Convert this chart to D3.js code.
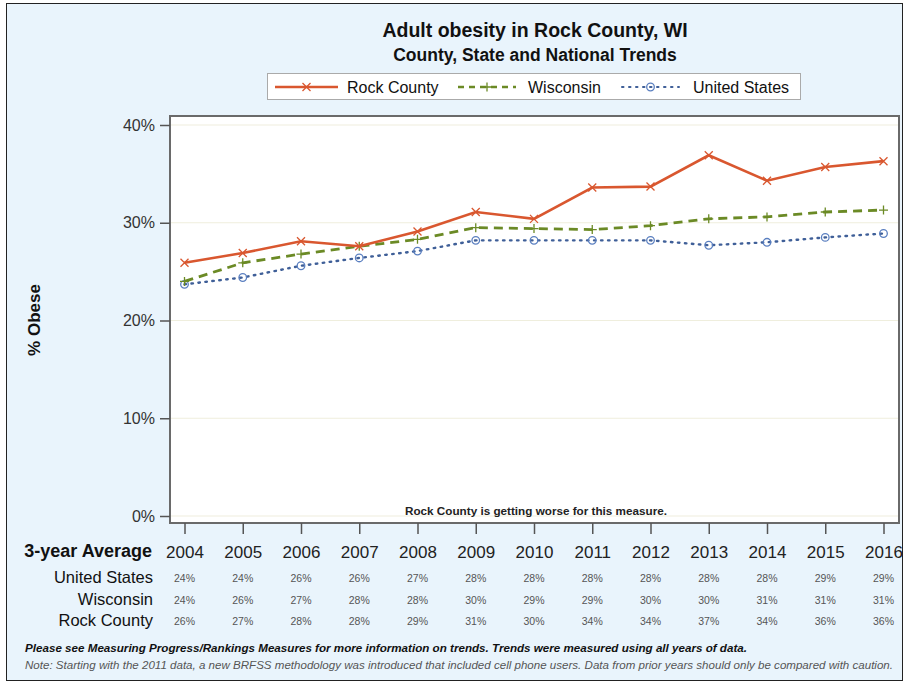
<!DOCTYPE html>
<html>
<head>
<meta charset="utf-8">
<script src="https://cdn.jsdelivr.net/npm/d3@7"></script>
<style>
html,body{margin:0;padding:0;background:#fff;}
svg{display:block;font-family:"Liberation Sans",Arial,sans-serif;}
</style>
</head>
<body>
<svg id="chart" width="907" height="683"></svg>
<script>
const years = [2004,2005,2006,2007,2008,2009,2010,2011,2012,2013,2014,2015,2016];
const rockCounty   = [25.9,26.9,28.1,27.6,29.1,31.1,30.4,33.6,33.7,36.9,34.3,35.7,36.3];
const wisconsin    = [24.0,25.9,26.8,27.6,28.3,29.5,29.4,29.3,29.7,30.4,30.6,31.1,31.3];
const unitedStates = [23.7,24.4,25.6,26.4,27.1,28.2,28.2,28.2,28.2,27.7,28.0,28.5,28.9];
const yTicks = [0,10,20,30,40];
const seriesNames = ["Rock County","Wisconsin","United States"];
const tableRows = ["United States","Wisconsin","Rock County"];

const svg = d3.select("#chart");
const W = 907, H = 683;

// background & frame
svg.append("rect").attr("x",0).attr("y",0).attr("width",W).attr("height",H).attr("fill","#fff");
svg.append("rect").attr("x",6.5).attr("y",3.5).attr("width",896).attr("height",677)
  .attr("fill","#e9f4fc").attr("stroke","#222").attr("stroke-width",1);

const plot = {left:170, top:116, right:899, bottom:523};
const x = d3.scalePoint().domain(years).range([184.5, 883.5]);
const y = d3.scaleLinear().domain([0,40]).range([516,125]);

// plot area
svg.append("rect").attr("x",plot.left).attr("y",plot.top)
  .attr("width",plot.right-plot.left).attr("height",plot.bottom-plot.top)
  .attr("fill","#fff");

// gridlines
svg.append("g").selectAll("line").data(yTicks).join("line")
  .attr("x1",plot.left).attr("x2",plot.right)
  .attr("y1",d=>y(d)).attr("y2",d=>y(d))
  .attr("stroke","#efeedd").attr("stroke-width",1.2);

svg.append("rect").attr("x",plot.left).attr("y",plot.top)
  .attr("width",plot.right-plot.left).attr("height",plot.bottom-plot.top)
  .attr("fill","none").attr("stroke","#6a6a6a").attr("stroke-width",2);

// y axis
const yAxis = d3.axisLeft(y).tickValues(yTicks).tickFormat(d=>d+"%").tickSize(10).tickPadding(5);
const gy = svg.append("g").attr("transform",`translate(${plot.left},0)`).call(yAxis);
gy.select(".domain").remove();
gy.selectAll(".tick line").attr("stroke","#555").attr("stroke-width",1.5);
gy.selectAll(".tick text").attr("font-size","16px").attr("fill","#333")
  .attr("font-family","'Liberation Sans',Arial,sans-serif");

// x axis
const xAxis = d3.axisBottom(x).tickFormat(d=>d).tickSize(11).tickPadding(12);
const gx = svg.append("g").attr("transform",`translate(0,${plot.bottom})`).call(xAxis);
gx.select(".domain").remove();
gx.selectAll(".tick line").attr("stroke","#555").attr("stroke-width",1.5);
gx.selectAll(".tick text").attr("font-size","17px").attr("fill","#222")
  .attr("font-family","'Liberation Sans',Arial,sans-serif");

// series
const series = [
  {name:seriesNames[0], values:rockCounty, color:"#d9572f", dash:null, width:2.6, marker:"x"},
  {name:seriesNames[1], values:wisconsin, color:"#6b8a25", dash:"9,6", width:2.8, marker:"plus"},
  {name:seriesNames[2], values:unitedStates, color:"#3f5f98", dash:"1.5,5.5", width:2.4, marker:"circle"}
];
const line = d3.line().x((d,i)=>x(years[i])).y(d=>y(d));

function drawMarker(g, type, cx, cy, color){
  if(type==="x"){
    const s=4;
    g.append("path").attr("d",`M${cx-s},${cy-s}L${cx+s},${cy+s}M${cx-s},${cy+s}L${cx+s},${cy-s}`)
      .attr("stroke",color).attr("stroke-width",1.3).attr("fill","none");
  } else if(type==="plus"){
    const s=4.5;
    g.append("path").attr("d",`M${cx-s},${cy}L${cx+s},${cy}M${cx},${cy-s}L${cx},${cy+s}`)
      .attr("stroke",color).attr("stroke-width",1.3).attr("fill","none");
  } else {
    g.append("circle").attr("cx",cx).attr("cy",cy).attr("r",3.8)
      .attr("stroke","#5a7fc0").attr("stroke-width",1.3).attr("fill","none");
  }
}

// draw in order US, Wisconsin, Rock so Rock on top
[...series].reverse().forEach(s=>{
  const g = svg.append("g");
  g.append("path").datum(s.values).attr("d",line).attr("fill","none")
    .attr("stroke",s.color).attr("stroke-width",s.width)
    .attr("stroke-dasharray",s.dash).attr("stroke-linecap",s.marker==="circle"?"round":"butt");
  s.values.forEach((v,i)=>drawMarker(g,s.marker,x(years[i]),y(v),s.color));
});

// annotation
svg.append("text").attr("x",536).attr("y",515).attr("text-anchor","middle")
  .attr("font-size","10.5px").attr("font-weight","bold").attr("fill","#222")
  .attr("textLength",262).attr("lengthAdjust","spacingAndGlyphs")
  .text("Rock County is getting worse for this measure.");

// titles
svg.append("text").attr("x",535).attr("y",37).attr("text-anchor","middle")
  .attr("font-size","19.5px").attr("font-weight","bold").attr("fill","#111")
  .text("Adult obesity in Rock County, WI");
svg.append("text").attr("x",535).attr("y",61).attr("text-anchor","middle")
  .attr("font-size","17.5px").attr("font-weight","bold").attr("fill","#111")
  .text("County, State and National Trends");

// legend
const lg = svg.append("g");
lg.append("rect").attr("x",267.5).attr("y",73.5).attr("width",533).attr("height",26)
  .attr("fill","#fff").attr("stroke","#aaa").attr("stroke-width",1);
const legendItems = [
  {s:series[0], x1:275, x2:338, tx:347},
  {s:series[1], x1:458, x2:516, tx:528},
  {s:series[2], x1:622, x2:679, tx:693}
];
legendItems.forEach(it=>{
  const ly = 87;
  lg.append("line").attr("x1",it.x1).attr("x2",it.x2).attr("y1",ly).attr("y2",ly)
    .attr("stroke",it.s.color).attr("stroke-width",it.s.marker==="circle"?2:2.4)
    .attr("stroke-dasharray",it.s.marker==="plus"?"6,5":it.s.dash)
    .attr("stroke-linecap",it.s.marker==="circle"?"round":"butt");
  drawMarker(lg,it.s.marker,(it.x1+it.x2)/2,ly,it.s.color);
  lg.append("text").attr("x",it.tx).attr("y",ly+5.5).attr("font-size","16px").attr("fill","#111")
    .text(it.s.name);
});

// y axis title
svg.append("text").attr("transform","translate(40,320) rotate(-90)").attr("text-anchor","middle")
  .attr("font-size","17px").attr("font-weight","bold").attr("fill","#111").text("% Obese");

// table
svg.append("text").attr("x",152).attr("y",557).attr("text-anchor","end")
  .attr("font-size","18px").attr("font-weight","bold").attr("fill","#111").text("3-year Average");
const tableData = {"United States":unitedStates, "Wisconsin":wisconsin, "Rock County":rockCounty};
const rowY = [583,604.5,626];
tableRows.forEach((r,ri)=>{
  svg.append("text").attr("x",153).attr("y",rowY[ri]).attr("text-anchor","end")
    .attr("font-size","16.5px").attr("fill","#111").text(r);
  svg.append("g").selectAll("text").data(tableData[r]).join("text")
    .attr("x",(d,i)=>x(years[i])).attr("y",rowY[ri]-1).attr("text-anchor","middle")
    .attr("font-size","10.5px").attr("fill","#555")
    .text(d=>Math.round(d)+"%");
});

// footer
svg.append("text").attr("x",25).attr("y",652).attr("font-size","11px").attr("font-weight","bold")
  .attr("font-style","italic").attr("fill","#111")
  .attr("textLength",722).attr("lengthAdjust","spacingAndGlyphs")
  .text("Please see Measuring Progress/Rankings Measures for more information on trends. Trends were measured using all years of data.");
svg.append("text").attr("x",25).attr("y",669).attr("font-size","11px")
  .attr("font-style","italic").attr("fill","#555")
  .attr("textLength",868).attr("lengthAdjust","spacingAndGlyphs")
  .text("Note: Starting with the 2011 data, a new BRFSS methodology was introduced that included cell phone users.  Data from prior years should only be compared with caution.");
</script>
</body>
</html>
